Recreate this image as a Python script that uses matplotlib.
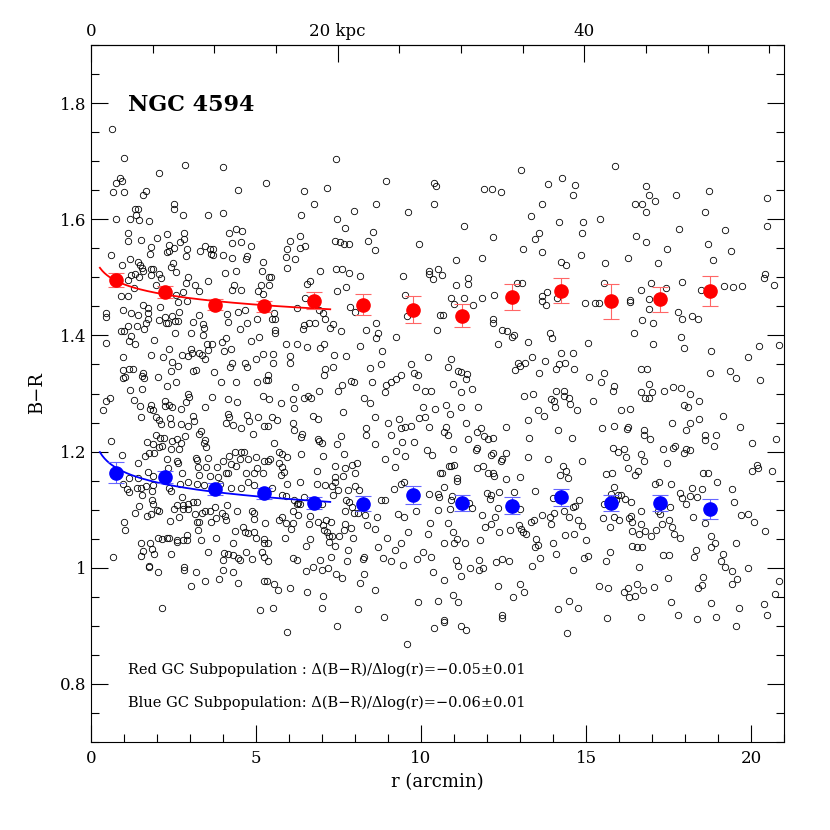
import numpy as np
import matplotlib
matplotlib.use("Agg")
import matplotlib.pyplot as plt
from matplotlib.ticker import MultipleLocator, FixedLocator, FixedFormatter

# globular clusters (r in arcmin, B-R)
gc_top = [
    (0.64, 1.755), (0.99, 1.705), (2.84, 1.693), (4.01, 1.690), (2.05, 1.679), (5.30, 1.662),
    (0.87, 1.671), (0.77, 1.663), (0.93, 1.665), (0.68, 1.647), (1.01, 1.647), (1.68, 1.648),
    (1.58, 1.641), (4.45, 1.650), (2.51, 1.626), (2.51, 1.617), (1.32, 1.617), (1.42, 1.617),
    (1.37, 1.608), (2.79, 1.608), (3.55, 1.607), (3.99, 1.610), (0.76, 1.600), (1.17, 1.600),
    (1.47, 1.599), (1.77, 1.597), (1.12, 1.576), (1.13, 1.562), (1.53, 1.564), (1.99, 1.568),
    (2.29, 1.575), (2.81, 1.577), (2.83, 1.566), (2.70, 1.560), (2.37, 1.556), (1.83, 1.552),
    (1.78, 1.541), (2.30, 1.543), (2.36, 1.546), (2.52, 1.550), (2.91, 1.548), (2.89, 1.537),
    (3.29, 1.545), (3.47, 1.554), (3.62, 1.548), (3.70, 1.549), (3.63, 1.541), (3.71, 1.538),
    (4.01, 1.538), (4.19, 1.577), (4.38, 1.583), (4.58, 1.580), (4.27, 1.559), (4.54, 1.560),
    (4.86, 1.554), (4.26, 1.533), (4.73, 1.537), (4.69, 1.532), (0.62, 1.538), (0.95, 1.522),
    (1.18, 1.531), (1.41, 1.527), (1.49, 1.521), (1.54, 1.516), (1.82, 1.514), (1.89, 1.514),
    (1.83, 1.504), (2.07, 1.505), (2.13, 1.499), (1.34, 1.505), (1.58, 1.511), (1.21, 1.504),
    (1.11, 1.495), (1.45, 1.500), (2.42, 1.518), (2.49, 1.524), (2.57, 1.510), (2.94, 1.500),
    (2.88, 1.490), (3.14, 1.486), (3.26, 1.476), (3.55, 1.494), (4.05, 1.507), (4.38, 1.511),
    (4.32, 1.487), (4.27, 1.478), (4.55, 1.478), (5.20, 1.526), (5.18, 1.511), (5.14, 1.486),
    (5.05, 1.476), (5.20, 1.471), (0.91, 1.467), (1.11, 1.467), (1.29, 1.481), (1.98, 1.487),
    (2.78, 1.474), (2.58, 1.470),
    (7.43, 1.703), (6.44, 1.649), (7.16, 1.654), (8.94, 1.665), (10.40, 1.662), (10.45, 1.657),
    (6.76, 1.627), (6.37, 1.608), (7.98, 1.614), (8.65, 1.627), (10.40, 1.627), (9.62, 1.612),
    (7.44, 1.600), (7.69, 1.585), (8.56, 1.578), (6.34, 1.572), (6.02, 1.562), (6.48, 1.554),
    (6.34, 1.550), (5.94, 1.548), (5.90, 1.535), (6.19, 1.531), (7.38, 1.562), (7.56, 1.560),
    (7.66, 1.557), (7.82, 1.558), (8.40, 1.562), (8.62, 1.547), (9.94, 1.557), (5.94, 1.516),
    (6.94, 1.511), (7.41, 1.514), (7.62, 1.515), (7.83, 1.507), (8.16, 1.502), (6.63, 1.494),
    (6.55, 1.488), (7.44, 1.477), (7.73, 1.484), (9.46, 1.503), (10.25, 1.511), (10.23, 1.506),
    (10.37, 1.497), (10.52, 1.515), (9.52, 1.470), (5.38, 1.501), (5.47, 1.501), (5.38, 1.487),
    (6.50, 1.464),
    (13.02, 1.684), (11.92, 1.652), (12.14, 1.652), (12.42, 1.647), (13.85, 1.661), (14.26, 1.671),
    (14.68, 1.659), (14.60, 1.642), (15.87, 1.692), (13.68, 1.627), (13.32, 1.606), (14.17, 1.596),
    (14.90, 1.596), (15.41, 1.600), (14.87, 1.577), (11.29, 1.588), (12.18, 1.570), (13.57, 1.577),
    (13.44, 1.566), (13.08, 1.549), (13.66, 1.544), (14.86, 1.539), (11.06, 1.530), (11.84, 1.533),
    (14.25, 1.526), (14.38, 1.522), (15.57, 1.525), (10.64, 1.504), (11.42, 1.498), (11.41, 1.489),
    (11.07, 1.487), (12.90, 1.491), (13.07, 1.491), (15.55, 1.490), (13.82, 1.475), (13.66, 1.467),
    (12.21, 1.469), (10.91, 1.464), (11.31, 1.464), (11.84, 1.464), (14.12, 1.465),
    (16.81, 1.658), (16.91, 1.641), (16.48, 1.626), (16.71, 1.627), (17.10, 1.632), (16.83, 1.612),
    (17.72, 1.641), (18.73, 1.649), (18.60, 1.613), (20.48, 1.637), (20.48, 1.588), (17.83, 1.583),
    (19.22, 1.581), (16.52, 1.572), (16.81, 1.561), (17.46, 1.549), (18.69, 1.558), (19.40, 1.545),
    (16.28, 1.534), (17.19, 1.525), (18.86, 1.529), (20.41, 1.505), (20.38, 1.498), (20.71, 1.486),
    (16.97, 1.491), (16.68, 1.478), (17.42, 1.481), (17.92, 1.492), (18.49, 1.478), (19.19, 1.485),
    (19.46, 1.483), (19.73, 1.485), (16.33, 1.461), (16.91, 1.462),
]

gc_mid = [
    (1.58, 1.452), (1.72, 1.448), (2.08, 1.449), (2.64, 1.458), (2.92, 1.460), (0.47, 1.438),
    (0.45, 1.431), (0.98, 1.444), (1.21, 1.439), (1.44, 1.435), (1.74, 1.439), (1.73, 1.429),
    (1.67, 1.422), (2.05, 1.426), (2.25, 1.432), (2.45, 1.433), (2.66, 1.440), (2.28, 1.422),
    (2.34, 1.421), (2.54, 1.425), (2.65, 1.425), (3.10, 1.423), (3.26, 1.436), (3.40, 1.419),
    (4.13, 1.437), (4.14, 1.423), (4.45, 1.440), (4.68, 1.444), (4.74, 1.422), (5.02, 1.428),
    (1.12, 1.416), (1.39, 1.416), (1.62, 1.411), (0.90, 1.408), (1.01, 1.407), (1.20, 1.399),
    (1.15, 1.390), (1.32, 1.386), (0.45, 1.387), (1.90, 1.392), (2.55, 1.405), (3.04, 1.404),
    (3.44, 1.413), (3.40, 1.401), (3.53, 1.386), (3.67, 1.386), (3.97, 1.388), (4.10, 1.395),
    (4.51, 1.411), (4.85, 1.390), (5.10, 1.397), (2.36, 1.377), (3.04, 1.377), (3.06, 1.370),
    (2.95, 1.365), (3.26, 1.370), (3.36, 1.367), (3.56, 1.375), (3.45, 1.359), (4.04, 1.373),
    (4.24, 1.377), (0.97, 1.363), (1.83, 1.366), (2.18, 1.363), (2.47, 1.354), (2.65, 1.348),
    (2.44, 1.338), (2.77, 1.366), (4.27, 1.352), (4.22, 1.345), (4.68, 1.352), (4.72, 1.345),
    (5.00, 1.359), (5.20, 1.368), (0.96, 1.341), (0.96, 1.326), (1.04, 1.329), (1.14, 1.343),
    (1.26, 1.343), (1.57, 1.336), (1.54, 1.330), (1.60, 1.326), (2.02, 1.328), (2.59, 1.320),
    (2.30, 1.313), (3.08, 1.338), (3.18, 1.340), (3.74, 1.337), (3.93, 1.320), (4.40, 1.319),
    (5.03, 1.320), (5.30, 1.323), (1.18, 1.306), (1.55, 1.307), (0.57, 1.293), (0.46, 1.287),
    (0.36, 1.272), (1.31, 1.288), (1.48, 1.279), (1.81, 1.281), (1.80, 1.273), (1.87, 1.272),
    (2.23, 1.287), (2.24, 1.279), (2.37, 1.281), (2.45, 1.276), (2.95, 1.299), (2.98, 1.294),
    (2.89, 1.286), (2.73, 1.274), (3.45, 1.276), (3.66, 1.294), (4.16, 1.290), (4.44, 1.286),
    (5.22, 1.296), (1.52, 1.260), (1.97, 1.260), (2.07, 1.254), (2.12, 1.247), (2.40, 1.257),
    (2.44, 1.247), (2.73, 1.247), (2.93, 1.244), (3.09, 1.262), (3.13, 1.253), (3.33, 1.236),
    (3.28, 1.230), (4.16, 1.264), (4.17, 1.259), (4.09, 1.250), (4.29, 1.246), (4.72, 1.263),
    (4.80, 1.253), (5.05, 1.259), (4.55, 1.241), (4.92, 1.230), (5.25, 1.244), (0.61, 1.218),
    (1.96, 1.228), (2.09, 1.224), (2.22, 1.224), (1.69, 1.217), (1.88, 1.213), (2.07, 1.208),
    (2.15, 1.210), (2.46, 1.219), (2.62, 1.221), (2.86, 1.227), (2.73, 1.215), (2.44, 1.205),
    (2.68, 1.204), (3.45, 1.220), (3.43, 1.214), (3.48, 1.208), (0.93, 1.194), (1.63, 1.192),
    (1.76, 1.197), (1.92, 1.198), (2.30, 1.187), (2.60, 1.183), (2.65, 1.180), (1.44, 1.181),
    (3.19, 1.189), (3.21, 1.186), (3.54, 1.189), (3.23, 1.174), (3.49, 1.174), (3.82, 1.174),
    (4.00, 1.184), (4.19, 1.193), (4.36, 1.199), (4.55, 1.200), (4.65, 1.199), (4.51, 1.188),
    (4.75, 1.188), (4.99, 1.191), (5.25, 1.184), (4.24, 1.179), (4.39, 1.175), (4.09, 1.164),
    (4.14, 1.163), (4.70, 1.163), (4.95, 1.164), (5.21, 1.164), (5.03, 1.171), (1.73, 1.165),
    (1.88, 1.158), (2.34, 1.171), (2.75, 1.163), (3.28, 1.160), (3.62, 1.158), (3.84, 1.157),
    (1.16, 1.154), (1.41, 1.154),
    (6.24, 1.447), (6.92, 1.444), (7.86, 1.449), (8.01, 1.440), (5.55, 1.438), (5.49, 1.429),
    (5.57, 1.428), (7.02, 1.438), (7.08, 1.429), (6.62, 1.422), (6.79, 1.422), (6.47, 1.418),
    (6.43, 1.411), (7.23, 1.412), (7.32, 1.420), (7.59, 1.408), (5.59, 1.409), (5.57, 1.405),
    (8.65, 1.422), (8.71, 1.405), (8.63, 1.395), (8.34, 1.410), (9.24, 1.398), (9.58, 1.434),
    (10.47, 1.409), (10.58, 1.435), (5.92, 1.386), (6.25, 1.386), (6.54, 1.380), (6.95, 1.378),
    (7.05, 1.386), (8.15, 1.382), (8.81, 1.374), (7.37, 1.367), (7.72, 1.364), (5.52, 1.368),
    (6.03, 1.364), (6.04, 1.352), (5.52, 1.353), (10.22, 1.363), (9.70, 1.351), (9.80, 1.336),
    (9.92, 1.331), (7.08, 1.343), (7.07, 1.331), (7.34, 1.346), (8.47, 1.344), (8.78, 1.350),
    (5.37, 1.332), (5.35, 1.323), (7.89, 1.321), (7.97, 1.319), (7.61, 1.315), (7.50, 1.304),
    (6.90, 1.305), (8.52, 1.320), (8.95, 1.315), (9.09, 1.320), (9.25, 1.325), (9.39, 1.331),
    (8.92, 1.303), (9.85, 1.312), (10.13, 1.305), (10.29, 1.305), (6.18, 1.311), (6.44, 1.293),
    (6.58, 1.296), (6.68, 1.292), (6.11, 1.290), (6.16, 1.275), (5.77, 1.284), (5.39, 1.290),
    (8.28, 1.292), (8.44, 1.284), (7.64, 1.268), (10.07, 1.277), (10.43, 1.274), (6.74, 1.261),
    (6.87, 1.256), (5.50, 1.259), (5.65, 1.254), (5.36, 1.244), (6.11, 1.249), (6.16, 1.238),
    (6.38, 1.230), (6.36, 1.225), (8.61, 1.259), (8.99, 1.250), (9.33, 1.256), (9.38, 1.241),
    (9.53, 1.243), (9.70, 1.244), (9.94, 1.257), (10.13, 1.260), (10.25, 1.243), (8.33, 1.241),
    (8.32, 1.229), (7.59, 1.226), (7.44, 1.213), (6.87, 1.222), (6.92, 1.219), (6.99, 1.215),
    (9.10, 1.228), (8.61, 1.213), (9.41, 1.217), (9.78, 1.217), (10.19, 1.203), (10.32, 1.194),
    (5.56, 1.214), (5.71, 1.199), (5.79, 1.196), (5.95, 1.191), (5.35, 1.184), (5.43, 1.187),
    (5.69, 1.180), (5.78, 1.173), (5.86, 1.165), (5.76, 1.159), (6.36, 1.195), (7.04, 1.193),
    (7.66, 1.195), (6.85, 1.167), (7.38, 1.176), (7.69, 1.171), (7.90, 1.177), (8.07, 1.180),
    (7.99, 1.163), (7.65, 1.158), (7.38, 1.157), (8.91, 1.187), (9.23, 1.201), (9.22, 1.174),
    (9.51, 1.193), (10.59, 1.163),
    (11.00, 1.454), (11.58, 1.452), (10.67, 1.436), (12.17, 1.429), (12.19, 1.422), (12.44, 1.409),
    (12.62, 1.408), (12.82, 1.401), (12.77, 1.397), (12.34, 1.386), (13.25, 1.389), (13.91, 1.405),
    (13.98, 1.395), (13.66, 1.460), (13.80, 1.452), (14.97, 1.455), (15.26, 1.456), (15.39, 1.456),
    (15.06, 1.387), (14.25, 1.370), (14.62, 1.369), (10.91, 1.359), (10.83, 1.345), (11.11, 1.338),
    (11.20, 1.337), (11.40, 1.334), (11.35, 1.325), (10.98, 1.316), (11.20, 1.303), (11.54, 1.307),
    (12.94, 1.352), (12.99, 1.347), (13.14, 1.352), (13.35, 1.362), (12.84, 1.340), (13.76, 1.356),
    (13.59, 1.335), (14.17, 1.350), (14.35, 1.353), (14.10, 1.342), (14.64, 1.343), (15.08, 1.328),
    (15.44, 1.319), (15.56, 1.335), (15.85, 1.313), (15.82, 1.304), (13.11, 1.295), (13.38, 1.299),
    (14.10, 1.305), (14.33, 1.304), (14.34, 1.296), (14.47, 1.293), (13.93, 1.291), (14.04, 1.287),
    (14.05, 1.276), (14.53, 1.282), (14.72, 1.272), (15.22, 1.287), (13.55, 1.271), (13.73, 1.262),
    (10.77, 1.281), (10.87, 1.265), (11.20, 1.277), (11.73, 1.277), (11.37, 1.250), (10.77, 1.243),
    (10.70, 1.234), (10.83, 1.229), (11.83, 1.241), (11.71, 1.233), (11.91, 1.227), (12.02, 1.222),
    (12.19, 1.223), (11.42, 1.222), (12.57, 1.242), (13.23, 1.254), (13.28, 1.224), (14.14, 1.237),
    (14.58, 1.224), (15.48, 1.240), (15.86, 1.244), (15.82, 1.206), (10.97, 1.204), (11.69, 1.206),
    (11.66, 1.202), (12.13, 1.194), (12.19, 1.197), (12.57, 1.198), (12.45, 1.188), (12.41, 1.183),
    (13.25, 1.191), (13.86, 1.188), (14.88, 1.183), (10.84, 1.176), (10.92, 1.175), (10.99, 1.177),
    (11.89, 1.176), (11.70, 1.171), (12.03, 1.163), (12.19, 1.164), (12.20, 1.158), (14.30, 1.175),
    (14.40, 1.166), (14.21, 1.159), (14.44, 1.155), (15.61, 1.162), (15.78, 1.164), (10.65, 1.164),
    (11.09, 1.154), (12.59, 1.153), (12.99, 1.156),
    (16.32, 1.458), (16.90, 1.445), (17.78, 1.441), (17.91, 1.429), (18.22, 1.433), (18.39, 1.429),
    (16.69, 1.427), (17.04, 1.421), (16.46, 1.404), (17.04, 1.386), (17.89, 1.398), (17.98, 1.379),
    (18.78, 1.374), (20.23, 1.381), (20.85, 1.384), (19.90, 1.362), (16.68, 1.343), (16.86, 1.342),
    (18.75, 1.336), (19.35, 1.339), (19.55, 1.326), (20.28, 1.324), (16.91, 1.317), (16.66, 1.302),
    (16.78, 1.293), (16.92, 1.293), (17.00, 1.303), (17.37, 1.304), (17.64, 1.312), (17.88, 1.309),
    (18.15, 1.300), (18.43, 1.287), (17.98, 1.280), (18.10, 1.277), (16.05, 1.271), (16.34, 1.273),
    (19.16, 1.262), (18.43, 1.256), (18.15, 1.250), (18.04, 1.238), (17.61, 1.249), (19.68, 1.242),
    (16.26, 1.243), (16.24, 1.239), (16.77, 1.237), (16.76, 1.229), (16.93, 1.221), (18.60, 1.228),
    (18.62, 1.220), (18.93, 1.228), (18.89, 1.210), (20.75, 1.222), (20.02, 1.214), (15.98, 1.200),
    (16.16, 1.204), (16.21, 1.191), (16.68, 1.196), (16.76, 1.183), (17.32, 1.205), (17.65, 1.206),
    (17.70, 1.210), (17.96, 1.198), (18.02, 1.204), (18.15, 1.203), (17.46, 1.180), (16.26, 1.171),
    (16.59, 1.167), (16.47, 1.159), (18.53, 1.163), (18.71, 1.163), (20.19, 1.177), (20.21, 1.172),
    (20.04, 1.167), (20.65, 1.166),
]

gc_low = [
    (0.98, 1.144), (1.09, 1.135), (1.16, 1.130), (1.38, 1.137), (1.52, 1.138), (1.67, 1.141),
    (1.87, 1.143), (1.55, 1.125), (1.84, 1.132), (1.85, 1.117), (1.89, 1.109), (2.35, 1.137),
    (2.43, 1.133), (2.70, 1.144), (2.94, 1.148), (3.20, 1.144), (3.44, 1.143), (3.92, 1.145),
    (4.24, 1.138), (4.55, 1.137), (4.75, 1.148), (4.95, 1.143), (1.47, 1.107), (1.33, 1.094),
    (1.69, 1.089), (1.81, 1.093), (1.99, 1.100), (2.07, 1.098), (0.99, 1.078), (1.02, 1.065),
    (2.52, 1.101), (2.61, 1.108), (2.76, 1.122), (2.79, 1.108), (2.95, 1.110), (3.08, 1.113),
    (3.21, 1.113), (2.79, 1.101), (2.93, 1.102), (2.68, 1.088), (2.39, 1.081), (3.15, 1.092),
    (3.37, 1.094), (3.21, 1.078), (3.26, 1.078), (3.23, 1.065), (3.46, 1.098), (3.62, 1.098),
    (3.64, 1.079), (3.77, 1.105), (3.80, 1.086), (3.96, 1.095), (4.05, 1.089), (4.10, 1.082),
    (4.13, 1.108), (4.41, 1.097), (4.87, 1.098), (4.95, 1.094), (4.93, 1.084), (5.27, 1.077),
    (4.35, 1.063), (4.60, 1.070), (4.67, 1.062), (4.75, 1.060), (4.95, 1.062), (5.01, 1.052),
    (5.24, 1.050), (5.25, 1.042), (2.02, 1.052), (2.14, 1.049), (2.31, 1.052), (2.37, 1.051),
    (2.60, 1.048), (2.60, 1.044), (2.79, 1.047), (2.90, 1.047), (2.90, 1.056), (3.32, 1.048),
    (3.80, 1.051), (1.53, 1.043), (1.80, 1.043), (1.59, 1.028), (1.52, 1.021), (1.85, 1.032),
    (1.92, 1.024), (2.44, 1.023), (0.66, 1.018), (1.76, 1.003), (1.76, 1.001), (2.04, 0.992),
    (2.81, 1.001), (2.83, 0.997), (3.18, 0.993), (3.04, 0.968), (3.47, 0.977), (3.54, 1.027),
    (3.88, 0.981), (4.00, 0.997), (4.01, 1.013), (4.04, 1.026), (4.16, 1.024), (4.30, 1.042),
    (4.30, 1.022), (4.46, 1.017), (4.51, 1.013), (4.71, 1.027), (4.89, 1.015), (4.31, 0.992),
    (4.46, 0.974), (5.19, 1.027), (5.23, 1.019), (5.25, 0.977), (2.15, 0.930), (5.12, 0.927),
    (5.50, 1.137), (5.94, 1.144), (6.34, 1.148), (6.84, 1.144), (7.09, 1.142), (7.30, 1.141),
    (7.39, 1.148), (7.50, 1.134), (7.33, 1.126), (7.80, 1.134), (8.01, 1.140), (8.13, 1.134),
    (9.19, 1.135), (9.38, 1.144), (9.49, 1.148), (10.25, 1.127), (10.51, 1.127), (10.54, 1.121),
    (5.79, 1.125), (5.91, 1.124), (6.14, 1.116), (6.27, 1.112), (6.34, 1.109), (6.44, 1.121),
    (6.23, 1.109), (6.13, 1.098), (6.26, 1.090), (6.63, 1.089), (6.88, 1.109), (7.00, 1.109),
    (7.73, 1.116), (7.81, 1.114), (7.91, 1.104), (7.98, 1.095), (8.10, 1.095), (7.71, 1.098),
    (8.79, 1.117), (8.92, 1.116), (8.30, 1.090), (8.67, 1.087), (9.31, 1.092), (9.49, 1.087),
    (9.84, 1.098), (10.51, 1.099), (5.78, 1.087), (5.69, 1.082), (5.92, 1.077), (6.06, 1.066),
    (6.13, 1.077), (6.62, 1.075), (6.89, 1.079), (7.12, 1.083), (7.28, 1.079), (7.02, 1.073),
    (7.07, 1.065), (7.16, 1.062), (7.22, 1.054), (7.30, 1.054), (7.22, 1.045), (7.38, 1.038),
    (7.53, 1.054), (7.68, 1.065), (7.70, 1.076), (7.89, 1.069), (7.95, 1.052), (8.35, 1.073),
    (8.60, 1.067), (9.60, 1.062), (10.28, 1.077), (10.21, 1.058), (8.97, 1.051), (9.40, 1.042),
    (9.20, 1.031), (8.71, 1.035), (5.36, 1.042), (5.89, 1.052), (6.63, 1.050), (6.53, 1.038),
    (7.78, 1.031), (6.13, 1.016), (6.24, 1.013), (6.93, 1.013), (7.27, 1.018), (7.76, 1.012),
    (8.26, 1.019), (8.24, 1.015), (8.84, 1.016), (9.10, 1.012), (9.88, 1.015), (10.05, 1.027),
    (10.29, 1.019), (9.44, 1.004), (10.37, 0.992), (5.36, 1.012), (6.72, 1.001), (7.00, 0.997),
    (7.18, 0.999), (6.51, 0.994), (7.42, 0.989), (7.60, 0.983), (8.26, 0.990), (8.15, 0.974),
    (5.34, 0.977), (5.54, 0.972), (5.66, 0.962), (6.02, 0.966), (6.54, 0.958), (7.04, 0.951),
    (8.61, 0.962), (10.51, 0.943), (5.53, 0.931), (7.00, 0.930), (8.10, 0.929), (8.89, 0.915),
    (9.90, 0.941), (7.45, 0.900), (5.95, 0.890), (10.40, 0.896), (9.58, 0.868),
    (10.71, 1.139), (11.09, 1.150), (10.94, 1.124), (10.91, 1.116), (10.89, 1.102), (11.54, 1.103),
    (11.46, 1.112), (11.99, 1.129), (12.13, 1.125), (12.10, 1.118), (12.36, 1.131), (12.83, 1.130),
    (13.00, 1.101), (13.46, 1.132), (13.99, 1.120), (14.32, 1.097), (14.60, 1.104), (14.68, 1.106),
    (14.78, 1.116), (14.47, 1.087), (14.77, 1.083), (14.89, 1.072), (15.54, 1.110), (15.52, 1.086),
    (15.76, 1.127), (15.84, 1.139), (15.90, 1.117), (11.85, 1.090), (12.25, 1.088), (12.32, 1.103),
    (12.13, 1.075), (11.93, 1.070), (12.36, 1.061), (12.70, 1.065), (12.97, 1.073), (13.03, 1.066),
    (13.08, 1.062), (13.19, 1.058), (13.33, 1.078), (13.43, 1.082), (13.66, 1.091), (13.90, 1.087),
    (14.02, 1.095), (13.95, 1.076), (14.37, 1.057), (14.63, 1.058), (15.01, 1.048), (15.73, 1.071),
    (15.86, 1.087), (10.83, 1.077), (10.98, 1.061), (10.69, 1.042), (11.01, 1.043), (11.08, 1.049),
    (11.32, 1.043), (11.78, 1.047), (13.47, 1.050), (13.45, 1.036), (13.55, 1.040), (13.99, 1.042),
    (14.08, 1.024), (13.60, 1.016), (13.37, 1.003), (11.07, 1.013), (11.12, 1.003), (11.47, 1.000),
    (11.76, 1.013), (11.76, 0.997), (11.89, 1.000), (12.27, 1.010), (12.44, 1.015), (12.66, 1.011),
    (11.21, 0.986), (10.71, 0.979), (14.95, 1.016), (15.05, 1.020), (15.60, 1.011), (15.74, 1.027),
    (14.61, 0.996), (12.32, 0.968), (12.99, 0.972), (13.12, 0.958), (12.80, 0.949), (10.96, 0.953),
    (11.12, 0.941), (15.40, 0.969), (15.66, 0.965), (14.49, 0.943), (14.14, 0.929), (14.75, 0.931),
    (12.45, 0.919), (12.44, 0.913), (10.69, 0.910), (10.69, 0.906), (11.21, 0.900), (11.35, 0.893),
    (14.43, 0.888), (15.63, 0.914),
    (17.10, 1.144), (17.22, 1.147), (17.58, 1.144), (18.22, 1.137), (18.50, 1.135), (18.96, 1.147),
    (19.42, 1.136), (15.96, 1.125), (16.06, 1.125), (16.19, 1.119), (16.36, 1.113), (17.85, 1.128),
    (17.90, 1.120), (18.15, 1.124), (18.35, 1.121), (18.03, 1.110), (19.48, 1.113), (17.54, 1.105),
    (17.17, 1.097), (17.25, 1.092), (16.66, 1.097), (15.99, 1.082), (16.29, 1.085), (16.37, 1.089),
    (16.38, 1.079), (16.66, 1.075), (16.39, 1.063), (16.61, 1.058), (16.78, 1.064), (16.97, 1.055),
    (17.13, 1.065), (17.29, 1.075), (17.52, 1.083), (17.61, 1.071), (17.66, 1.058), (17.84, 1.052),
    (18.23, 1.088), (18.61, 1.077), (19.71, 1.091), (19.90, 1.092), (20.08, 1.079), (20.43, 1.064),
    (18.79, 1.055), (18.91, 1.043), (18.79, 1.035), (19.55, 1.042), (16.39, 1.037), (16.54, 1.036),
    (16.70, 1.035), (17.32, 1.022), (17.51, 1.022), (18.32, 1.030), (18.27, 1.019), (19.14, 1.023),
    (19.10, 1.012), (19.20, 1.001), (19.43, 0.994), (19.57, 0.980), (19.43, 0.972), (19.92, 1.000),
    (20.85, 0.977), (20.72, 0.955), (20.40, 0.937), (20.49, 0.919), (19.64, 0.931), (16.62, 1.001),
    (17.48, 0.982), (18.56, 0.984), (18.50, 0.971), (18.39, 0.965), (16.28, 0.966), (16.16, 0.958),
    (16.29, 0.950), (16.47, 0.952), (16.56, 0.972), (16.74, 0.962), (17.07, 0.967), (17.57, 0.941),
    (18.80, 0.939), (16.66, 0.916), (17.79, 0.918), (18.37, 0.911), (18.95, 0.915), (19.55, 0.900),
]

# binned means
bin_r = [0.75, 2.25, 3.75, 5.25, 6.75, 8.25, 9.75, 11.25, 12.75, 14.25, 15.75, 17.25, 18.75]
red_br = [1.495, 1.475, 1.453, 1.450, 1.460, 1.453, 1.444, 1.434, 1.466, 1.477, 1.459, 1.462, 1.477]
red_err = [0.012, 0.010, 0.009, 0.010, 0.014, 0.018, 0.023, 0.020, 0.023, 0.021, 0.030, 0.021, 0.026]
blue_br = [1.164, 1.156, 1.136, 1.128, 1.111, 1.110, 1.125, 1.111, 1.107, 1.121, 1.111, 1.112, 1.101]
blue_err = [0.018, 0.010, 0.010, 0.010, 0.010, 0.013, 0.016, 0.014, 0.014, 0.015, 0.014, 0.014, 0.017]

# log fits  B-R = a + b log(r)
red_fit = (1.488, -0.05)
blue_fit = (1.165, -0.06)
fit_range = (0.27, 7.25)

kpc_per_arcmin = 2.676

plt.rcParams['font.family'] = ['DejaVu Serif']
fig = plt.figure(figsize=(8.3, 8.3), dpi=100)
ax = fig.add_axes([0.1096, 0.106, 0.835, 0.8398])

pts = np.array(gc_top + gc_mid + gc_low)
ax.plot(pts[:, 0], pts[:, 1], 'o', ms=4.6, mfc='none', mec='black', mew=0.6, zorder=2)

rr = np.linspace(fit_range[0], fit_range[1], 200)
ax.plot(rr, red_fit[0] + red_fit[1] * np.log10(rr), color='red', lw=1.3, zorder=3)
ax.plot(rr, blue_fit[0] + blue_fit[1] * np.log10(rr), color='blue', lw=1.3, zorder=3)

ax.errorbar(bin_r, red_br, yerr=red_err, fmt='o', color='red', ms=9.5, ecolor='#ff6666',
            elinewidth=0.8, capsize=6, capthick=0.8, zorder=4)
ax.errorbar(bin_r, blue_br, yerr=blue_err, fmt='o', color='blue', ms=9.5, ecolor='#6666ff',
            elinewidth=0.8, capsize=6, capthick=0.8, zorder=4)

ax.set_xlim(0, 21)
ax.set_ylim(0.7, 1.9)
ax.xaxis.set_major_locator(MultipleLocator(5))
ax.xaxis.set_minor_locator(MultipleLocator(1))
ax.yaxis.set_major_locator(FixedLocator([0.8, 1.0, 1.2, 1.4, 1.6, 1.8]))
ax.yaxis.set_major_formatter(FixedFormatter(['0.8', '1', '1.2', '1.4', '1.6', '1.8']))
ax.yaxis.set_minor_locator(MultipleLocator(0.05))
ax.tick_params(which='both', direction='in', right=True, top=False, labelsize=12)
ax.tick_params(which='major', length=12, width=0.8)
ax.tick_params(which='minor', length=6, width=0.8)
ax.tick_params(axis='x', pad=6)
for s in ax.spines.values():
    s.set_linewidth(0.8)

top = ax.secondary_xaxis('top', functions=(lambda x: x * kpc_per_arcmin, lambda k: k / kpc_per_arcmin))
top.xaxis.set_major_locator(FixedLocator([0, 20, 40]))
top.xaxis.set_major_formatter(FixedFormatter(['0', '20 kpc', '40']))
top.xaxis.set_minor_locator(MultipleLocator(5))
top.tick_params(which='both', direction='in', labelsize=12)
top.tick_params(which='major', length=12, width=0.8)
top.tick_params(which='minor', length=6, width=0.8)

ax.set_xlabel('r (arcmin)', fontsize=13, labelpad=4)
ax.set_ylabel('B\u2212R', fontsize=13, labelpad=10)

ax.text(0.053, 0.905, 'NGC 4594', transform=ax.transAxes, fontsize=16, fontweight='bold')
ax.text(0.053, 0.097, 'Red GC Subpopulation : \u0394(B\u2212R)/\u0394log(r)=\u22120.05\u00b10.01',
        transform=ax.transAxes, fontsize=10.5)
ax.text(0.053, 0.050, 'Blue GC Subpopulation: \u0394(B\u2212R)/\u0394log(r)=\u22120.06\u00b10.01',
        transform=ax.transAxes, fontsize=10.5)

fig.savefig('out.png', dpi=100)
